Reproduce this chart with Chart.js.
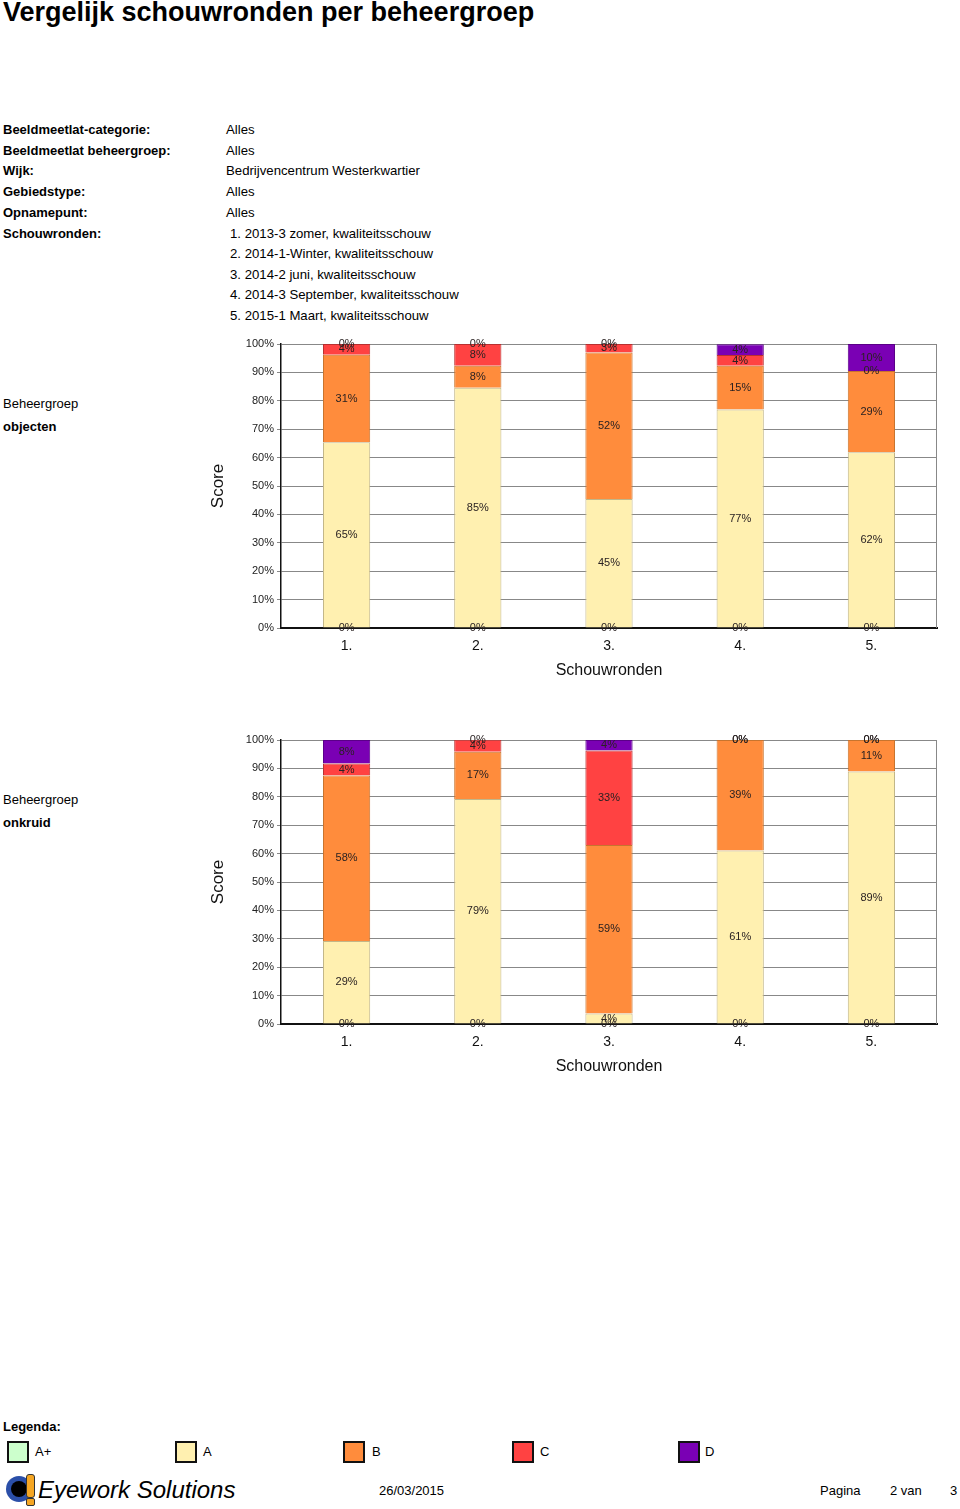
<!DOCTYPE html>
<html>
<head>
<meta charset="utf-8">
<script src="https://cdn.jsdelivr.net/npm/chart.js@4/dist/chart.umd.min.js"></script>
<style>
  body { margin: 0; width: 960px; height: 1509px; position: relative; background: #fff;
         font-family: Arial, "Liberation Sans", sans-serif; color: #000; overflow: hidden; }
  .abs { position: absolute; white-space: nowrap; }
  h1 { position: absolute; left: 3px; top: -3px; margin: 0; font-size: 27px; line-height: 30px; font-weight: bold; }
  .lbl { position: absolute; left: 3px; font-size: 13px; font-weight: bold; line-height: 16px; }
  .val { position: absolute; left: 226px; font-size: 13.2px; line-height: 16px; }
  .side { position: absolute; left: 3px; font-size: 13px; line-height: 16px; }
  .box { position: absolute; width: 18px; height: 18px; border: 2px solid #111; top: 1441px; }
  .leg { position: absolute; top: 1444px; font-size: 13px; line-height: 16px; }
  .chartbox { position: absolute; left: 200px; width: 745px; height: 354px; }
</style>
</head>
<body>
<h1>Vergelijk schouwronden per beheergroep</h1>

<div class="lbl" style="top:122px">Beeldmeetlat-categorie:</div><div class="val" style="top:122px">Alles</div>
<div class="lbl" style="top:143px">Beeldmeetlat beheergroep:</div><div class="val" style="top:143px">Alles</div>
<div class="lbl" style="top:163px">Wijk:</div><div class="val" style="top:163px">Bedrijvencentrum Westerkwartier</div>
<div class="lbl" style="top:184px">Gebiedstype:</div><div class="val" style="top:184px">Alles</div>
<div class="lbl" style="top:205px">Opnamepunt:</div><div class="val" style="top:205px">Alles</div>
<div class="lbl" style="top:226px">Schouwronden:</div>
<div class="val" style="top:226px;left:230px">1. 2013-3 zomer, kwaliteitsschouw</div>
<div class="val" style="top:246px;left:230px">2. 2014-1-Winter, kwaliteitsschouw</div>
<div class="val" style="top:267px;left:230px">3. 2014-2 juni, kwaliteitsschouw</div>
<div class="val" style="top:287px;left:230px">4. 2014-3 September, kwaliteitsschouw</div>
<div class="val" style="top:308px;left:230px">5. 2015-1 Maart, kwaliteitsschouw</div>

<div class="side" style="top:396px">Beheergroep</div>
<div class="side" style="top:419px;font-weight:bold">objecten</div>
<div class="chartbox" style="top:330px"><canvas id="chartObjecten"></canvas></div>

<div class="side" style="top:792px">Beheergroep</div>
<div class="side" style="top:815px;font-weight:bold">onkruid</div>
<div class="chartbox" style="top:726px"><canvas id="chartOnkruid"></canvas></div>

<div class="lbl" style="top:1419px">Legenda:</div>
<div class="box" style="left:7px;background:#ccffcc"></div><div class="leg" style="left:35px">A+</div>
<div class="box" style="left:175px;background:#fff0b0"></div><div class="leg" style="left:203px">A</div>
<div class="box" style="left:343px;background:#ff8c3c"></div><div class="leg" style="left:372px">B</div>
<div class="box" style="left:512px;background:#ff4242"></div><div class="leg" style="left:540px">C</div>
<div class="box" style="left:678px;background:#7a00b4"></div><div class="leg" style="left:705px">D</div>

<!-- footer with logo -->
<div class="abs" style="left:6px;top:1476px;width:26px;height:26px;border-radius:50%;background:#2b4fa8"></div>
<div class="abs" style="left:11px;top:1481px;width:16px;height:16px;border-radius:50%;background:#000"></div>
<div class="abs" style="left:26px;top:1474px;width:7px;height:22px;border-radius:3px;background:#f5a623;border:1px solid #333"></div>
<div class="abs" style="left:26px;top:1498px;width:7px;height:6px;border-radius:2px;background:#f5a623;border:1px solid #333"></div>
<div class="abs" style="left:38px;top:1475px;font-size:24px;font-style:italic;line-height:30px">Eyework Solutions</div>
<div class="abs" style="left:379px;top:1483px;font-size:13px;line-height:16px">26/03/2015</div>
<div class="abs" style="left:820px;top:1483px;font-size:13px;line-height:16px">Pagina</div>
<div class="abs" style="left:890px;top:1483px;font-size:13px;line-height:16px">2 van</div>
<div class="abs" style="left:950px;top:1483px;font-size:13px;line-height:16px">3</div>

<script>
// Schouwronden (x-axis)
const rounds = ['1.', '2.', '3.', '4.', '5.'];

// Beheergroep objecten, percentage per score
const objAPlus = [0, 0, 0, 0, 0];
const objA = [65.4, 84.6, 45.4, 76.9, 61.9];
const objB = [30.8, 7.7, 51.6, 15.4, 28.6];
const objC = [3.8, 7.7, 3.0, 3.8, 0];
const objD = [0, 0, 0, 3.8, 9.5];

// Beheergroep onkruid
const onkAPlus = [0, 0, 0, 0, 0];
const onkA = [29.2, 79.2, 3.7, 61.1, 88.9];
const onkB = [58.3, 16.7, 59.3, 38.9, 11.1];
const onkC = [4.2, 4.2, 33.3, 0, 0];
const onkD = [8.3, 0, 3.7, 0, 0];

const scoreNames = ['A+', 'A', 'B', 'C', 'D'];
const fills = ['#ccffcc', '#fff0b0', '#ff8c3c', '#ff4242', '#7a00b4'];
const borders = ['#a8c8a8', '#c2b688', '#c8742e', '#b83030', '#5a0088'];

const font = 'Arial, "Liberation Sans", sans-serif';

// Percentage labels in the middle of every segment (zeros too)
const segmentLabels = {
    id: 'segmentLabels',
    afterDatasetsDraw(chart) {
        const ctx = chart.ctx;
        ctx.save();
        ctx.font = '11px ' + font;
        ctx.fillStyle = '#2a2222';
        ctx.textAlign = 'center';
        ctx.textBaseline = 'middle';
        chart.data.datasets.forEach((ds, i) => {
            chart.getDatasetMeta(i).data.forEach((bar, j) => {
                const y = (bar.y + bar.base) / 2;
                ctx.fillText(Math.round(ds.data[j]) + '%', bar.x, y);
            });
        });
        ctx.restore();
    }
};

// Grey line on the right side of the plot
const rightFrame = {
    id: 'rightFrame',
    beforeDatasetsDraw(chart) {
        const { ctx, chartArea } = chart;
        ctx.save();
        ctx.strokeStyle = '#888';
        ctx.lineWidth = 1;
        ctx.beginPath();
        ctx.moveTo(chartArea.right - 0.5, chartArea.top);
        ctx.lineTo(chartArea.right - 0.5, chartArea.bottom);
        ctx.stroke();
        ctx.restore();
    }
};

function makeChart(canvasId, series) {
    const ctx = document.getElementById(canvasId).getContext('2d');
    new Chart(ctx, {
        type: 'bar',
        data: {
            labels: rounds,
            datasets: series.map((values, i) => ({
                label: scoreNames[i],
                data: values,
                backgroundColor: fills[i],
                borderColor: borders[i],
                borderWidth: 1,
                barPercentage: 0.36,
                categoryPercentage: 1
            }))
        },
        options: {
            responsive: true,
            maintainAspectRatio: false,
            animation: false,
            layout: { padding: { top: 14, right: 8, left: 0, bottom: 0 } },
            scales: {
                x: {
                    stacked: true,
                    grid: { display: false, drawTicks: false },
                    border: { color: '#111', width: 2 },
                    ticks: { color: '#111', font: { size: 14, family: font }, padding: 10 },
                    title: { display: true, text: 'Schouwronden', color: '#111', font: { size: 16, family: font } },
                    afterFit: scale => { scale.height = 56; }
                },
                y: {
                    stacked: true,
                    min: 0,
                    max: 100,
                    ticks: { stepSize: 10, color: '#222', font: { size: 11, family: font }, padding: 3,
                             callback: v => v + '%' },
                    grid: { color: '#888', tickLength: 4 },
                    border: { color: '#111', width: 1.5 },
                    title: { display: true, text: 'Score', color: '#111', font: { size: 17, family: font },
                             padding: { top: 8, bottom: 4 } },
                    afterFit: scale => { scale.width = 81; }
                }
            },
            plugins: {
                legend: { display: false },
                tooltip: { enabled: false }
            }
        },
        plugins: [rightFrame, segmentLabels]
    });
}

makeChart('chartObjecten', [objAPlus, objA, objB, objC, objD]);
makeChart('chartOnkruid', [onkAPlus, onkA, onkB, onkC, onkD]);
</script>
</body>
</html>
